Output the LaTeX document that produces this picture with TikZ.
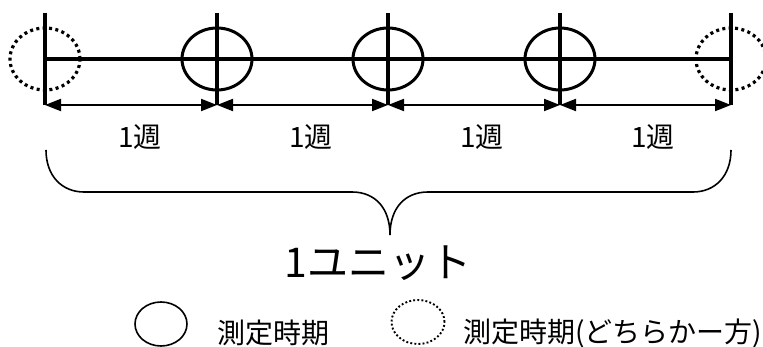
\documentclass[tikz,border=0pt]{standalone}
\usepackage{fontspec}
\setmainfont{Noto Sans CJK JP}
\usetikzlibrary{arrows.meta,shapes.geometric}
\tikzset{
  mainline/.style={line width=3.2pt},
  meas/.style={ellipse, draw, line width=3pt, minimum width=70pt, minimum height=62pt, inner sep=0pt},
  measopt/.style={ellipse, draw, line width=3.2pt, dash pattern=on 3pt off 3.4pt, minimum width=70pt, minimum height=62pt, inner sep=0pt},
  dimline/.style={line width=2pt, {Triangle[length=16pt,width=12pt]}-{Triangle[length=16pt,width=12pt]}},
  weeklbl/.style={font=\fontsize{28}{32}\selectfont, inner sep=0pt},
  bracepath/.style={line width=1.6pt},
  legsolid/.style={ellipse, draw, line width=1.6pt, minimum width=52pt, minimum height=44pt, inner sep=0pt},
  legdot/.style={ellipse, draw, line width=1.9pt, dash pattern=on 1.9pt off 2.2pt, minimum width=53pt, minimum height=44pt, inner sep=0pt},
  legtext/.style={font=\fontsize{28}{32}\selectfont, inner sep=0pt, anchor=west}
}
\begin{document}
\begin{tikzpicture}[x=1pt,y=-1pt]
\useasboundingbox (0,0) rectangle (763,347);
% tick coordinates
\foreach \i/\x in {0/45,1/217,2/388,3/560,4/731}{
  \coordinate (top\i) at (\x,13);
  \coordinate (mid\i) at (\x,59);
  \coordinate (bot\i) at (\x,105);
}
% circles
\node[measopt] (c0) at (mid0) {};
\node[meas] (c1) at (mid1) {};
\node[meas] (c2) at (mid2) {};
\node[meas] (c3) at (mid3) {};
\node[measopt] (c4) at (mid4) {};
% lines
\draw[mainline] (mid0) -- (mid4);
\foreach \i in {0,...,4}{ \draw[mainline] (top\i) -- (bot\i); }
% dimension arrows
\draw[dimline] (bot0) -- (bot1);
\draw[dimline] (bot1) -- (bot2);
\draw[dimline] (bot2) -- (bot3);
\draw[dimline] (bot3) -- (bot4);
% week labels
\node[weeklbl] (w1) at (140,137) {1週};
\node[weeklbl] (w2) at (311,137) {1週};
\node[weeklbl] (w3) at (482,137) {1週};
\node[weeklbl] (w4) at (653,137) {1週};
% brace
\coordinate (bl) at (46,150);
\coordinate (br) at (731,150);
\coordinate (bc) at (390,235);
\draw[bracepath] (bl) .. controls (46,176) and (62,192) .. (84,192) -- (352,192)
  .. controls (375,192) and (390,208) .. (bc)
  .. controls (390,208) and (405,192) .. (428,192) -- (693,192)
  .. controls (715,192) and (731,176) .. (br);
% unit label
\node[font=\fontsize{41}{46}\selectfont, inner sep=0pt] (unit) at (378,263) {1ユニット};
% legend
\node[legsolid] (ls) at (161,324) {};
\node[legtext] (lt1) at (217,333) {測定時期};
\node[legdot] (ld) at (418,322) {};
\node[legtext] (lt2) at (463,333) {測定時期(どちらかー方)};
\end{tikzpicture}
\end{document}
